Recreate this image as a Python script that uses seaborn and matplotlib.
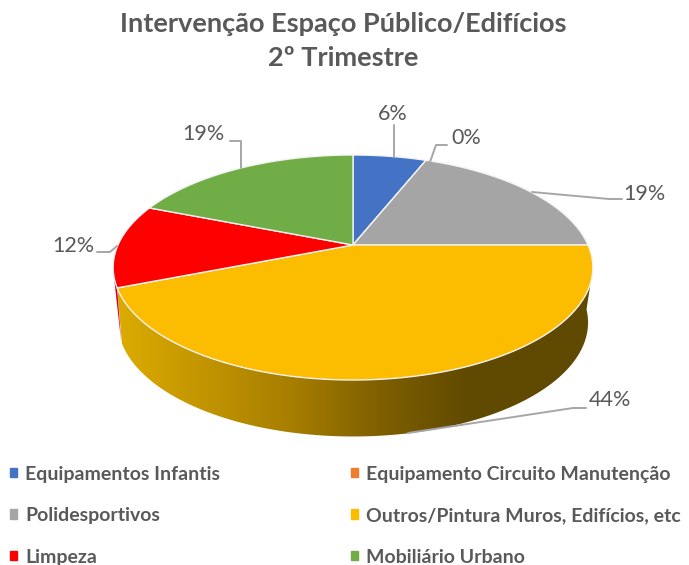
import numpy as np
import pandas as pd
import matplotlib
matplotlib.use("Agg")
import matplotlib.pyplot as plt
from matplotlib.colors import LinearSegmentedColormap
from matplotlib.patches import Patch, Polygon
import seaborn as sns

# data
categories = ["Equipamentos Infantis", "Equipamento Circuito Manutenção", "Polidesportivos",
              "Outros/Pintura Muros, Edifícios, etc", "Limpeza", "Mobiliário Urbano"]
percent = [6, 0, 19, 44, 12, 19]
colors = ["#4472C4", "#ED7D31", "#A5A5A5", "#FCBD00", "#FF0000", "#70AD47"]
title_text = "Intervenção Espaço Público/Edifícios\n2º Trimestre"

# where the labels and their leader lines sit, in pixels
label_pos = [(393, 114), (466, 138), (644, 194), (610, 400), (73, 246), (203, 134)]
leaders = [
    [(394, 125), (394, 157)],
    [(447, 145), (436, 145), (430, 162)],
    [(532, 192), (609, 199), (622, 199)],
    [(586, 408), (573, 408), (408, 433)],
    [(97, 252), (110, 252), (117, 246)],
    [(230, 141), (241, 141), (241, 168)],
]

TEXT = "#595959"
LINE = "#A6A6A6"

sns.set_theme(style="white")
plt.rcParams["font.family"] = ["Lato", "DejaVu Sans"]

df = pd.DataFrame({"category": categories, "percent": percent})


def top_plane(theta):
    # the pie seen in perspective: unit circle to pixels
    t = np.radians(theta)
    x, y = np.cos(t), np.sin(t)
    w = 1 + 0.2 * y
    return 353 + 235 * x / w, 245 - 108 * y / w


def low_plane(theta):
    # lower rim of the disc, same shape pushed down
    x, y = top_plane(theta)
    return 353 + 0.98 * (x - 353), 322 + 1.013 * (y - 267)


def side_poly(t_top, t_low, t_end):
    xt, yt = top_plane(np.linspace(t_top, t_end, 150))
    xl, yl = low_plane(np.linspace(t_end, t_low, 150))
    return np.column_stack([np.r_[xt, xl], np.r_[yt, yl]])


fig = plt.figure(figsize=(6.89, 5.65), dpi=100, facecolor="white")
ax = fig.add_axes([0, 0, 1, 1])

wedges, _ = ax.pie(df["percent"], colors=sns.color_palette(colors), startangle=90,
                   counterclock=False, normalize=True)
thetas = [(w.theta1, w.theta2) for w in wedges]
face = [w.get_facecolor() for w in wedges]
for w in wedges:
    w.remove()

ax.set_aspect("auto")
ax.set_xlim(0, 689)
ax.set_ylim(565, 0)
ax.axis("off")

# side of the disc, yellow part with a left to right shade
yellow_start = thetas[3][0]
shade = LinearSegmentedColormap.from_list(
    "side", [(0, "#DCAB00"), (0.37, "#A67D00"), (0.55, "#7F6000"), (0.74, "#604900"), (1, "#604900")])
side = Polygon(side_poly(-19, -5, yellow_start), closed=True, fc="none", ec="none")
ax.add_patch(side)
img = ax.imshow(np.linspace(0, 1, 256).reshape(1, -1), cmap=shade, aspect="auto",
                extent=(118, 593, 440, 260), zorder=1)
img.set_clip_path(side)
ax.set_xlim(0, 689)
ax.set_ylim(565, 0)

# thin bit of the red slice seen at the far left
xt, yt = top_plane(np.linspace(yellow_start, yellow_start - 6, 20))
xl, yl = low_plane(np.array([yellow_start - 1]))
ax.add_patch(Polygon(np.column_stack([np.r_[xt, xl], np.r_[yt, yl]]), closed=True,
                     fc="#D8001E", ec="none", zorder=1))

# top of the disc
for (t1, t2), fc in zip(thetas, face):
    xs, ys = top_plane(np.linspace(t1, t2, 200))
    pts = np.column_stack([np.r_[353, xs], np.r_[245, ys]])
    ax.add_patch(Polygon(pts, closed=True, fc=fc, ec="#F2F2F2", lw=1, zorder=2))

# data labels
for pts in leaders:
    ax.plot(*zip(*pts), color=LINE, lw=1.4, zorder=3, solid_joinstyle="round")
for v, (x, y) in zip(df["percent"], label_pos):
    ax.text(x, y, f"{v}%", color=TEXT, fontsize=15.5, ha="center", va="center")

ax.text(343, 41.5, title_text, color=TEXT, fontsize=19.5, fontweight="bold",
        ha="center", va="center", linespacing=1.5)

# matplotlib fills legend columns first, the picture reads by row
handles = [Patch(color=c) for c in colors]
order = [0, 2, 4, 1, 3, 5]
leg = ax.legend([handles[i] for i in order], [categories[i] for i in order],
                ncol=2, loc="lower left", bbox_to_anchor=(0.0, -0.019), frameon=False,
                fontsize=14, handlelength=0.36, handleheight=0.36, handletextpad=0.41,
                columnspacing=6.75, labelspacing=1.26, borderpad=0.42, borderaxespad=0.1)
for t in leg.get_texts():
    t.set_color(TEXT)
    t.set_fontweight("bold")

sns.despine(ax=ax, left=True, bottom=True)
fig.savefig("out.png", dpi=100, facecolor="white")
plt.close(fig)
